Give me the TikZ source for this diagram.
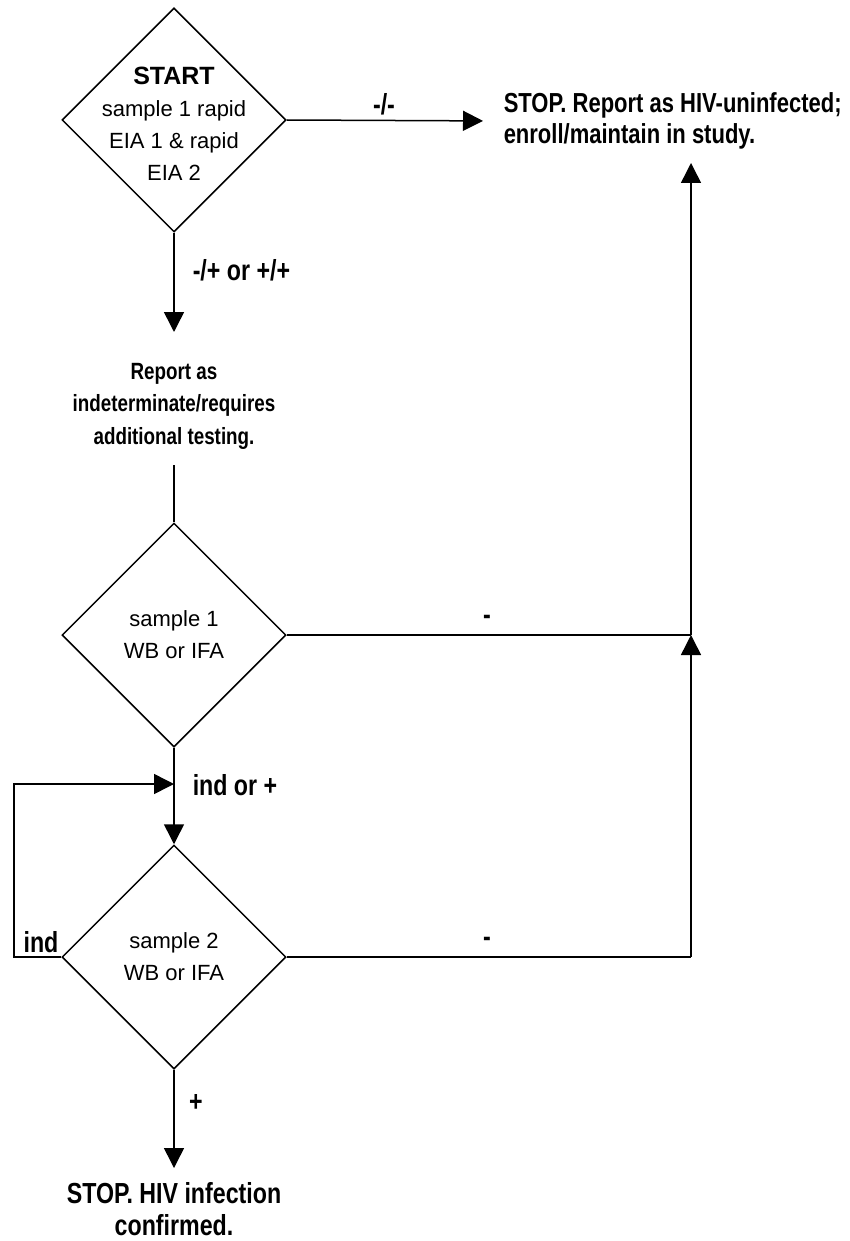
\documentclass[tikz,border=0pt]{standalone}
\usepackage{fontspec}
\setmainfont{Liberation Sans}
\newfontfamily\narrowfont{Liberation Sans}[FakeStretch=0.8]
\usetikzlibrary{arrows.meta,shapes.geometric,positioning}

\begin{document}
\begin{tikzpicture}[x=1pt,y=-1pt,line width=1.5pt,>={Triangle[length=20pt,width=20pt]},
  decision/.style={draw,diamond,minimum width=224pt,minimum height=224pt,inner sep=0pt},
  dtext/.style={align=center,inner sep=0pt,font=\fontsize{22}{32}\selectfont},
  lbl/.style={inner sep=0pt,font=\narrowfont\bfseries\fontsize{29}{30}\selectfont},
  term/.style={inner sep=0pt,font=\narrowfont\bfseries\fontsize{27.5}{31}\selectfont}]
  \useasboundingbox (0,0) rectangle (849,1241);
  % decisions
  \node[decision] (d1) at (174,120) {};
  \node[dtext] (t1) at (174,124) {{\bfseries\fontsize{25}{32}\selectfont START}\\sample 1 rapid\\EIA 1 \& rapid\\EIA 2};
  \node[decision] (d2) at (174,635) {};
  \node[dtext] (t2) at (d2) {sample 1\\WB or IFA};
  \node[decision] (d3) at (174,957) {};
  \node[dtext] (t3) at (d3) {sample 2\\WB or IFA};
  % outcomes
  \node[term,align=left,anchor=west] (neg) at (503,121) {STOP. Report as HIV-uninfected;\\enroll/maintain in study.};
  \node[term,align=center,font=\narrowfont\bfseries\fontsize{23.5}{32.5}\selectfont] (rep) at (174,406) {Report as\\indeterminate/requires\\additional testing.};
  \node[term,align=center,font=\narrowfont\bfseries\fontsize{29}{32}\selectfont] (pos) at (174,1209) {STOP. HIV infection\\confirmed.};
  % connector ends
  \coordinate (a1) at (174,332);
  \coordinate (a2) at (174,465);
  \coordinate (j1) at (691,635);
  \coordinate (j2) at (691,957);
  \coordinate (a3) at (691,163);
  \coordinate (lp) at (14,784);
  \coordinate (a4) at (174,1168);
  % connectors
  \draw[->,shorten >=20pt] (d1.east) -- (neg.west);
  \draw[->] (d1.south) -- (a1);
  \draw (a2) -- (d2.north);
  \draw (d2.east) -- (j1);
  \draw[->] (j1) -- (a3);
  \draw[->] (d2.south) -- (d3.north);
  \draw[->] (d3.west) -| (lp) -- (lp -| d3.north);
  \draw (d3.east) -- (j2);
  \draw[->] (j2) -- (j1);
  \draw[->] (d3.south) -- (a4);
  % labels
  \node[lbl] (l1) at (384,104) {-/-};
  \node[lbl,anchor=west] (l2) at (192,270) {-/+ or +/+};
  \node[lbl] (l3) at (487,620) {-};
  \node[lbl,anchor=west] (l4) at (192,785) {ind or +};
  \node[lbl] (l5) at (41,942) {ind};
  \node[lbl] (l6) at (487,942) {-};
  \node[lbl] (l7) at (196,1103) {+};
\end{tikzpicture}
\end{document}
